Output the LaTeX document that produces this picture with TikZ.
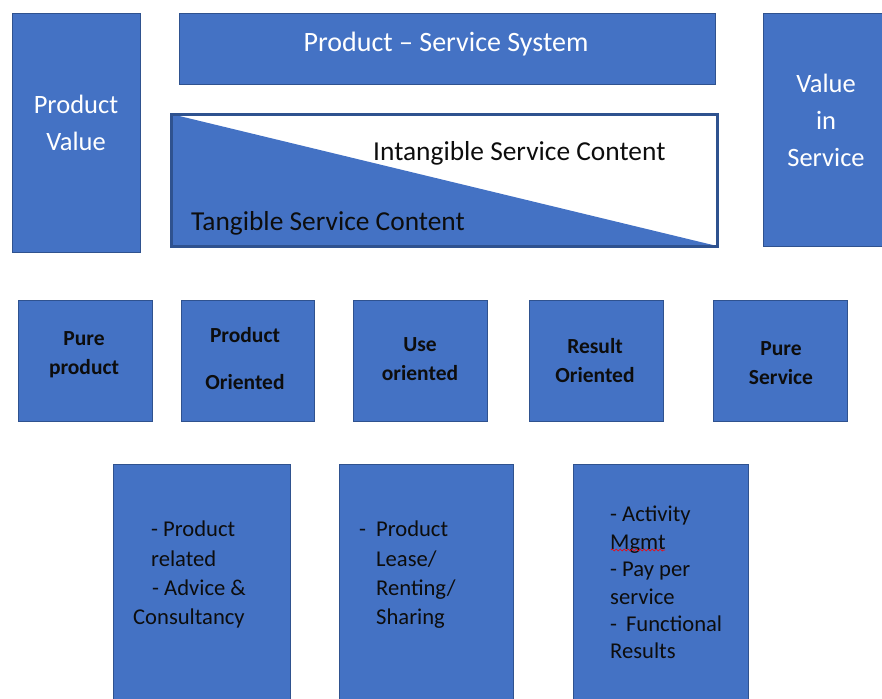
\documentclass[tikz,border=0pt]{standalone}
\usepackage{fontspec}
\setmainfont{Carlito}
\usetikzlibrary{positioning}
\usetikzlibrary{decorations.pathmorphing}
\definecolor{boxfill}{HTML}{4472C4}
\definecolor{boxedge}{HTML}{2F528F}
\definecolor{ink}{HTML}{0D0D0D}
\tikzset{
  blok/.style={draw=boxedge,fill=boxfill,line width=0.8pt,inner sep=0pt,outer sep=0pt},
  toplbl/.style={text=white,align=center,font=\fontsize{26.5}{37}\selectfont},
  darklbl/.style={text=ink,anchor=west,inner sep=0pt,font=\fontsize{27.4}{37}\selectfont},
  typelbl/.style={text=ink,align=center,font=\fontsize{21.5}{29}\selectfont\bfseries},
  listlbl/.style={text=ink,align=left,anchor=north west,inner sep=0pt,font=\fontsize{22.6}{29.3}\selectfont},
}

\begin{document}
\begin{tikzpicture}[x=1pt,y=-1pt,line join=miter]
\useasboundingbox (0,0) rectangle (882,698);
\clip (0,0) rectangle (882,698);

% top row
\node[blok,minimum width=128pt,minimum height=239pt] (pv) at (76,132.5) {};
\node[toplbl] (pvtxt) at (76,123) {Product\\Value};
\node[blok,minimum width=536pt,minimum height=71pt] (pss) at (447,48.5) {};
\node[toplbl,font=\fontsize{28}{37}\selectfont] (psstxt) at (446,44) {Product -- Service System};
\node[blok,minimum width=122pt,minimum height=233pt] (vis) at (824,129.5) {};
\node[toplbl] (vistxt) at (826,120) {Value\\in\\Service};

% tangible / intangible split
\coordinate (TL) at (171,114);
\coordinate (BR) at (717,246);
\fill[boxfill] (TL) -- (BR) -- (TL |- BR) -- cycle;
\draw[boxedge,line width=3pt] (TL) rectangle (BR);
\node[darklbl] (intang) at (373,153) {Intangible Service Content};
\node[darklbl] (tang) at (191,223) {Tangible Service Content};

% second row: the five types
\node[blok,minimum width=134pt,minimum height=121pt] (t1) at (85,360.5) {};
\node[blok,minimum width=133pt,minimum height=121pt] (t2) at (247.5,360.5) {};
\node[blok,minimum width=134pt,minimum height=121pt] (t3) at (420,360.5) {};
\node[blok,minimum width=134pt,minimum height=121pt] (t4) at (596,360.5) {};
\node[blok,minimum width=134pt,minimum height=121pt] (t5) at (780,360.5) {};
\node[typelbl] (t1txt) at (84,354.5) {Pure\\product};
\node[typelbl] (t2txt) at (245,358.5) {Product\\[18pt]Oriented};
\node[typelbl] (t3txt) at (420,359.5) {Use\\oriented};
\node[typelbl] (t4txt) at (595,361) {Result\\Oriented};
\node[typelbl] (t5txt) at (781,363.5) {Pure\\Service};

% third row: service lists
\node[blok,minimum width=177pt,minimum height=240pt] (s1) at (201.5,584) {};
\node[blok,minimum width=174pt,minimum height=240pt] (s2) at (426,584) {};
\node[blok,minimum width=175pt,minimum height=240pt] (s3) at (660.5,584) {};
\node[listlbl] (s1txt) at (133,521) {\hspace*{18pt}- Product\\\hspace*{18pt}related\\\hspace*{19pt}- Advice \&\\Consultancy};
\node[listlbl] (s2txt) at (359,521) {-\hspace{10pt}Product\\\hspace*{17pt}Lease/\\\hspace*{17pt}Renting/\\\hspace*{17pt}Sharing};
\node[listlbl,font=\fontsize{22.6}{27.4}\selectfont] (s3txt) at (610,506) {- Activity\\Mgmt\\- Pay per\\service\\-\hspace{9pt}Functional\\Results};
\draw[red,line width=0.6pt,decorate,decoration={snake,amplitude=1pt,segment length=4pt}] (611,550) -- (665,550);
\end{tikzpicture}
\end{document}
